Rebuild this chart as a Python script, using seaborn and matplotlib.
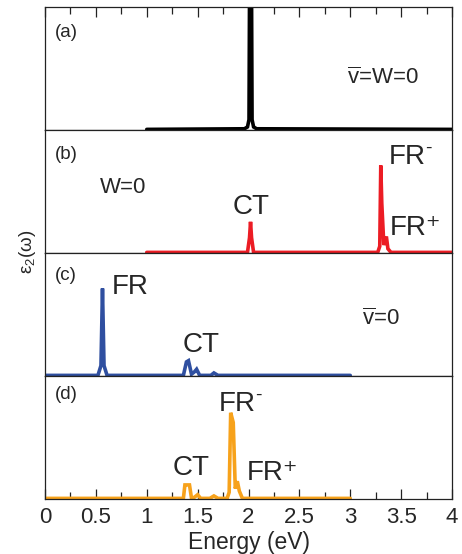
import numpy as np
import pandas as pd
import matplotlib
matplotlib.use("Agg")
import matplotlib.pyplot as plt
import seaborn as sns

# ---- data ----
# panel (a): single transition, peak runs off the top
a_x = [1.0, 1.96, 1.99, 2.005, 2.012, 2.028, 2.035, 2.05, 2.08, 4.0]
a_y = [0.0, 0.005, 0.02, 0.08, 1.5, 1.5, 0.08, 0.02, 0.005, 0.0]

# panel (b): W=0
b_x = [1.0, 1.99, 2.01, 2.02, 2.03, 2.05, 3.27, 3.29, 3.30, 3.31, 3.33, 3.355, 3.37, 3.40, 4.0]
b_y = [0.0, 0.0, 0.12, 0.25, 0.12, 0.0, 0.0, 0.05, 0.71, 0.40, 0.06, 0.13, 0.03, 0.0, 0.0]

# panel (c): v̄=0
c_x = [0.0, 0.52, 0.55, 0.565, 0.58, 0.61, 1.36, 1.39, 1.41, 1.44, 1.47, 1.49, 1.52, 1.63, 1.66, 1.70, 3.0]
c_y = [0.0, 0.0, 0.08, 0.71, 0.08, 0.0, 0.0, 0.11, 0.12, 0.01, 0.03, 0.05, 0.0, 0.0, 0.02, 0.0, 0.0]

# panel (d)
d_x = [0.0, 1.36, 1.375, 1.39, 1.42, 1.44, 1.47, 1.50, 1.53, 1.62, 1.66, 1.70, 1.79, 1.81, 1.825,
       1.85, 1.87, 1.89, 1.91, 1.94, 3.0]
d_y = [0.0, 0.0, 0.11, 0.11, 0.11, 0.0, 0.01, 0.03, 0.0, 0.0, 0.02, 0.0, 0.0, 0.05, 0.70,
       0.62, 0.08, 0.14, 0.06, 0.0, 0.0]

xticks = [0, 0.5, 1, 1.5, 2, 2.5, 3, 3.5, 4]
xticklabels = ["0", "0.5", "1", "1.5", "2", "2.5", "3", "3.5", "4"]

colors = ["#000000", "#ec1c24", "#2f4fa0", "#f7a21b"]
panel_tags = ["(a)", "(b)", "(c)", "(d)"]

sns.set_theme(style="white")
plt.rcParams["font.family"] = ["Liberation Sans", "DejaVu Sans"]
plt.rcParams["mathtext.fontset"] = "custom"
plt.rcParams["mathtext.rm"] = "Liberation Sans"
plt.rcParams["mathtext.it"] = "Liberation Sans:italic"

fig, axes = plt.subplots(4, 1, figsize=(4.62, 5.54), dpi=100, sharex=True)
fig.subplots_adjust(left=45/462, right=452/462, top=1-7/554, bottom=1-499/554, hspace=0)

datasets = [(a_x, a_y), (b_x, b_y), (c_x, c_y), (d_x, d_y)]
for i, (ax, (xs, ys)) in enumerate(zip(axes, datasets)):
    df = pd.DataFrame({"E": xs, "eps": ys})
    sns.lineplot(data=df, x="E", y="eps", ax=ax, color=colors[i], linewidth=2.6,
                 estimator=None, sort=False, solid_joinstyle="miter")
    ax.set_xlim(0, 4)
    ax.set_ylim(-0.005, 1.0)
    ax.set_yticks([])
    ax.set_xlabel("")
    ax.set_ylabel("")
    for s in ax.spines.values():
        s.set_linewidth(0.9)
        s.set_color("#222222")
    ax.text(0.025, [0.79, 0.80, 0.82, 0.85][i], panel_tags[i], transform=ax.transAxes,
            fontsize=13.5, va="center", ha="left")
    ax.tick_params(axis="x", which="both", bottom=False, top=False, labelbottom=False)

# top ticks on (a), bottom ticks and labels on (d)
axes[0].set_xticks(xticks)
axes[0].set_xticks(np.arange(0.25, 4, 0.5), minor=True)
axes[0].tick_params(axis="x", which="major", top=True, direction="in", length=7, width=0.9, color="#222222")
axes[0].tick_params(axis="x", which="minor", top=True, direction="in", length=5, width=0.9, color="#222222")
axes[3].set_xticks(xticks)
axes[3].set_xticklabels(xticklabels)
axes[3].tick_params(axis="x", which="major", bottom=True, labelbottom=True, direction="in",
                    length=7, width=0.9, color="#222222", labelsize=16, pad=6)
axes[3].tick_params(axis="x", which="minor", bottom=True, direction="in", length=5, width=0.9, color="#222222")
axes[3].set_xlabel("Energy (eV)", fontsize=16.5, labelpad=2)

# annotations
lbl = 20
mid = 16
fr_minus = "FR$^{\\rm \u2010}$"
fr_plus = "FR\u207a"
axes[0].text(2.97, 0.42, r"$\overline{\rm v}$=W=0", fontsize=mid, va="center", ha="left")
axes[1].text(0.54, 0.53, "W=0", fontsize=mid, va="center", ha="left")
axes[1].text(1.84, 0.37, "CT", fontsize=lbl, va="center", ha="left")
axes[1].text(3.37, 0.78, fr_minus, fontsize=lbl, va="center", ha="left")
axes[1].text(3.39, 0.20, fr_plus, fontsize=lbl, va="center", ha="left")
axes[2].text(0.66, 0.72, "FR", fontsize=lbl, va="center", ha="left")
axes[2].text(1.35, 0.25, "CT", fontsize=lbl, va="center", ha="left")
axes[2].text(3.12, 0.46, r"$\overline{\rm v}$=0", fontsize=mid, va="center", ha="left")
axes[3].text(1.70, 0.77, fr_minus, fontsize=lbl, va="center", ha="left")
axes[3].text(1.25, 0.25, "CT", fontsize=lbl, va="center", ha="left")
axes[3].text(1.98, 0.21, fr_plus, fontsize=lbl, va="center", ha="left")

fig.text(27/462, 1-252/554, r"$\rm\varepsilon_2(\omega)$", rotation=90, fontsize=13.5,
         va="center", ha="center")

fig.savefig("out.png", dpi=100)
